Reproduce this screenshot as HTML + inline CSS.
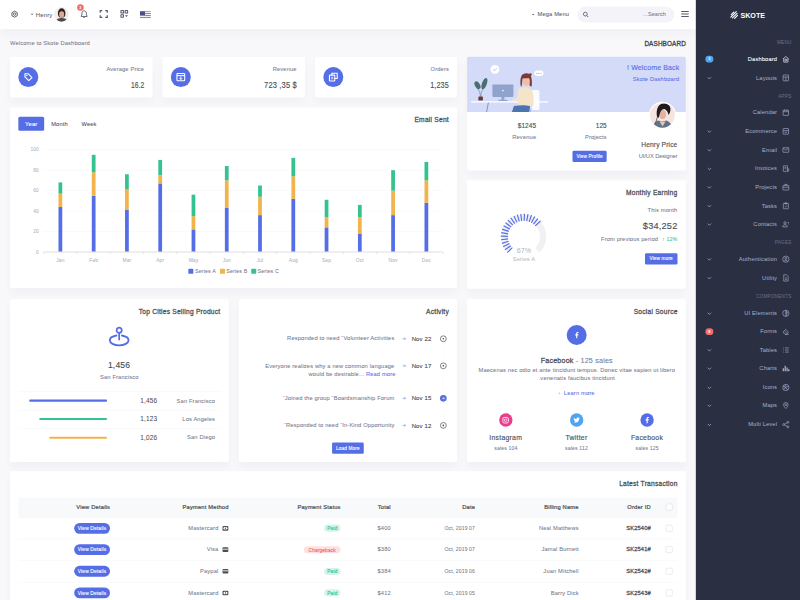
<!DOCTYPE html><html><head><meta charset="utf-8"><style>
*{box-sizing:border-box;margin:0;padding:0}
html,body{width:800px;height:600px;overflow:hidden;background:#f8f8fb}
body{font-family:"Liberation Sans",sans-serif;color:#495057}
#root{position:absolute;left:0;top:0;width:1920px;height:1440px;transform:scale(0.4166667);transform-origin:0 0;background:#f8f8fb;overflow:hidden}
.t{position:absolute;white-space:nowrap;font-size:13px;line-height:20px;height:20px}
.card{position:absolute;background:#fff;border-radius:4px;box-shadow:0 12px 24px rgba(18,38,63,.03)}
.muted{color:#74788d}
.b{font-weight:bold}
svg{position:absolute;overflow:visible}
#topbar{position:absolute;left:0;top:0;width:1670px;height:70px;background:#fff;box-shadow:0 12px 24px rgba(18,38,63,.03)}
#sidebar{position:absolute;left:1670px;top:0;width:250px;height:1440px;background:#2a3042}
.mi{position:absolute;color:#a6b0cf;font-size:13px;line-height:20px;height:20px;white-space:nowrap}
.mt{position:absolute;color:#6a7187;font-size:11px;line-height:14px;letter-spacing:.6px}
.btn{position:absolute;background:#556ee6;color:#fff;border-radius:4px;font-size:13px;text-align:center;white-space:nowrap;letter-spacing:.025em;-webkit-text-stroke:.25px #fff}
</style></head><body><div id="root">
<div id="topbar"></div>
<svg style="left:25px;top:24px" width="20" height="20" viewBox="0 0 24 24"><path d="M12 3.2l7.6 4.4v8.8L12 20.8l-7.6-4.4V7.6z" fill="none" stroke="#555b6d" stroke-width="2.8" stroke-linejoin="round"/><circle cx="12" cy="12" r="3.4" fill="none" stroke="#555b6d" stroke-width="2.6"/></svg>
<svg style="left:73px;top:32px" width="8" height="5" viewBox="0 0 8 5"><path d="M0.5 0.8h7L4 4z" fill="#555b6d"/></svg>
<div class="t" style="top:25.0px;font-size:14.31px;line-height:20px;letter-spacing:0.025em;-webkit-text-stroke:0.12px currentColor;left:86.0px;color:#555b6d;">Henry</div>
<div style="position:absolute;left:130px;top:17px;width:35px;height:35px;border-radius:50%;background:#f6ece8;overflow:hidden">
<div style="position:absolute;left:9px;top:3px;width:18px;height:22px;border-radius:50% 50% 40% 40%;background:#2b2320"></div>
<div style="position:absolute;left:12px;top:10px;width:12px;height:15px;border-radius:45%;background:#d9ab92"></div>
<div style="position:absolute;left:5px;top:26px;width:26px;height:14px;border-radius:50% 50% 0 0;background:#4a4a50"></div>
</div>
<svg style="left:191px;top:23px" width="22" height="22" viewBox="0 0 24 24"><path d="M12 3.2c-3.4 0-5.8 2.7-5.8 6v4.6L4.2 16.6v1.4h15.6v-1.4l-2-2.8V9.2c0-3.3-2.4-6-5.8-6z" fill="none" stroke="#555b6d" stroke-width="2.4" stroke-linejoin="round"/><path d="M9.6 19.8a2.4 2.4 0 0 0 4.8 0z" fill="#555b6d"/></svg>
<div style="position:absolute;left:185px;top:10px;width:16px;height:16px;border-radius:50%;background:#f46a6a;color:#fff;font-size:9px;line-height:16px;text-align:center;font-weight:bold">3</div>
<svg style="left:239px;top:24px" width="20" height="19" viewBox="0 0 20 19"><path d="M1.5 6.5V1.5H6.5M13.5 1.5h5v5M18.5 12.5v5h-5M6.5 17.5h-5v-5" fill="none" stroke="#555b6d" stroke-width="2.8"/></svg>
<svg style="left:289px;top:24px" width="19" height="19" viewBox="0 0 19 19"><rect x="1.3" y="1.3" width="6" height="6" rx="0.4" fill="none" stroke="#555b6d" stroke-width="2.5"/><rect x="11.3" y="1.3" width="6" height="6" rx="0.4" fill="none" stroke="#555b6d" stroke-width="2.5"/><rect x="1.3" y="11.3" width="6" height="6" rx="0.4" fill="none" stroke="#555b6d" stroke-width="2.5"/><path d="M11 12.5h7L14.5 17z" fill="#555b6d"/></svg>
<div style="position:absolute;left:336px;top:27px;width:26px;height:17px;overflow:hidden;background:repeating-linear-gradient(180deg,#e06a72 0 2.43px,#f8f0f0 2.43px 4.86px)"><div style="position:absolute;left:0;top:0;width:12px;height:9px;background:#4d4f8a"></div></div>
<svg style="left:1276px;top:33px" width="7" height="4" viewBox="0 0 7 4"><path d="M0.3 0.3h6.4L3.5 3.7z" fill="#555b6d"/></svg>
<div class="t" style="top:25.0px;font-size:13.78px;line-height:20px;letter-spacing:0.025em;-webkit-text-stroke:0.12px currentColor;left:1290.0px;color:#555b6d;">Mega Menu</div>
<div style="position:absolute;left:1386px;top:16px;width:232px;height:38px;border-radius:30px;background:#f3f3f9"></div>
<svg style="left:1398px;top:27px" width="16" height="16" viewBox="0 0 16 16"><circle cx="6.8" cy="6.8" r="4.6" fill="none" stroke="#555b6d" stroke-width="2"/><path d="M10.3 10.3l3.7 3.7" stroke="#555b6d" stroke-width="2.2"/></svg>
<div class="t" style="top:25.0px;font-size:13.04px;line-height:20px;letter-spacing:0.025em;-webkit-text-stroke:0.12px currentColor;right:321.7px;color:#74788d;">...Search</div>
<svg style="left:1634px;top:25px" width="20" height="17" viewBox="0 0 20 17"><path d="M1 2.5h18M1 8.5h18M1 14.5h18" stroke="#555b6d" stroke-width="2.6"/></svg>
<div class="t" style="top:93.0px;font-size:13.78px;line-height:20px;letter-spacing:0.025em;-webkit-text-stroke:0.12px currentColor;left:24.0px;color:#74788d;">Welcome to Skote Dashboard</div>
<div class="t" style="top:95.0px;font-size:16.48px;line-height:20px;letter-spacing:0.02em;-webkit-text-stroke:0.7px currentColor;right:273.7px;color:#3e444a;"><span style="display:inline-block;transform:scaleX(0.93);transform-origin:100% 50%">DASHBOARD</span></div>
<div id="sidebar"></div>
<svg style="left:1752px;top:26px" width="20" height="20" viewBox="0 0 20 20"><g fill="none" stroke="#fff" stroke-width="2.6" stroke-linecap="round"><path d="M3 9l6-6M2 15l13-13M6 17l11-11M11 18l7-7"/></g></svg>
<div class="t" style="top:25.5px;font-size:19.11px;line-height:20px;letter-spacing:0.0em;font-weight:bold;left:1777.0px;color:#fff;letter-spacing:0px;"><span style="display:inline-block;transform:scaleX(0.9);transform-origin:0 50%">SKOTE</span></div>
<div class="t" style="top:90.8px;font-size:11.02px;line-height:20px;letter-spacing:0.025em;right:20.3px;color:#6a7187;letter-spacing:0.6px;">MENU</div>
<div class="t" style="top:131.6px;font-size:13.78px;line-height:20px;letter-spacing:0.025em;-webkit-text-stroke:0.15px currentColor;right:54.9px;color:#fff;">Dashboard</div>
<svg style="left:1876.4px;top:131.6px" width="20" height="20" viewBox="0 0 20 20"><path d="M3 10L10 3.5 17 10M5 8.5V17h10V8.5" fill="none" stroke="#fff" stroke-width="1.5" stroke-linejoin="round"/><circle cx="10" cy="12" r="2.2" fill="none" stroke="#fff" stroke-width="1.5" stroke-linejoin="round"/></svg>
<div style="position:absolute;left:1693px;top:133.6px;width:19px;height:16px;border-radius:8px;background:#50a5f1;color:#fff;font-size:9px;line-height:16px;text-align:center;font-weight:bold">3</div>
<div class="t" style="top:177.2px;font-size:13.78px;line-height:20px;letter-spacing:0.025em;right:54.9px;color:#a6b0cf;">Layouts</div>
<svg style="left:1876.4px;top:177.2px" width="20" height="20" viewBox="0 0 20 20"><rect x="3.5" y="3" width="13" height="14" rx="1" fill="none" stroke="#a6b0cf" stroke-width="1.5" stroke-linejoin="round"/><path d="M3.5 8h13M10 8v9" fill="none" stroke="#a6b0cf" stroke-width="1.5" stroke-linejoin="round"/></svg>
<svg style="left:1697px;top:184.2px" width="11" height="7" viewBox="0 0 11 7"><path d="M1.5 1.5l4 4 4-4" fill="none" stroke="#a6b0cf" stroke-width="1.8"/></svg>
<div class="t" style="top:220.4px;font-size:11.02px;line-height:20px;letter-spacing:0.025em;right:20.3px;color:#6a7187;letter-spacing:0.6px;">APPS</div>
<div class="t" style="top:260.4px;font-size:13.78px;line-height:20px;letter-spacing:0.025em;right:54.9px;color:#a6b0cf;">Calendar</div>
<svg style="left:1876.4px;top:260.4px" width="20" height="20" viewBox="0 0 20 20"><rect x="3.5" y="4.5" width="13" height="12.5" rx="1" fill="none" stroke="#a6b0cf" stroke-width="1.5" stroke-linejoin="round"/><path d="M3.5 8h13M7 2.5v3M13 2.5v3" fill="none" stroke="#a6b0cf" stroke-width="1.5" stroke-linejoin="round"/></svg>
<div class="t" style="top:305.0px;font-size:13.78px;line-height:20px;letter-spacing:0.025em;right:54.9px;color:#a6b0cf;">Ecommerce</div>
<svg style="left:1876.4px;top:305.0px" width="20" height="20" viewBox="0 0 20 20"><rect x="3.5" y="3.5" width="13" height="13.5" rx="1" fill="none" stroke="#a6b0cf" stroke-width="1.5" stroke-linejoin="round"/><path d="M3.5 8.5h13M7 12.5h6" fill="none" stroke="#a6b0cf" stroke-width="1.5" stroke-linejoin="round"/></svg>
<svg style="left:1697px;top:312.0px" width="11" height="7" viewBox="0 0 11 7"><path d="M1.5 1.5l4 4 4-4" fill="none" stroke="#a6b0cf" stroke-width="1.8"/></svg>
<div class="t" style="top:350.0px;font-size:13.78px;line-height:20px;letter-spacing:0.025em;right:54.9px;color:#a6b0cf;">Email</div>
<svg style="left:1876.4px;top:350.0px" width="20" height="20" viewBox="0 0 20 20"><rect x="3" y="4.5" width="14" height="11" rx="1" fill="none" stroke="#a6b0cf" stroke-width="1.5" stroke-linejoin="round"/><path d="M3.5 5.5l6.5 5 6.5-5" fill="none" stroke="#a6b0cf" stroke-width="1.5" stroke-linejoin="round"/></svg>
<svg style="left:1697px;top:357.0px" width="11" height="7" viewBox="0 0 11 7"><path d="M1.5 1.5l4 4 4-4" fill="none" stroke="#a6b0cf" stroke-width="1.8"/></svg>
<div class="t" style="top:395.0px;font-size:13.78px;line-height:20px;letter-spacing:0.025em;right:54.9px;color:#a6b0cf;">Invoices</div>
<svg style="left:1876.4px;top:395.0px" width="20" height="20" viewBox="0 0 20 20"><path d="M4 3h10v14l-2-1.2-2 1.2-2-1.2-2 1.2-2-1.2z" fill="none" stroke="#a6b0cf" stroke-width="1.5" stroke-linejoin="round"/><path d="M7 7h4M7 10h4M14 10h3v5a2 2 0 0 1-3 0" fill="none" stroke="#a6b0cf" stroke-width="1.5" stroke-linejoin="round"/></svg>
<svg style="left:1697px;top:402.0px" width="11" height="7" viewBox="0 0 11 7"><path d="M1.5 1.5l4 4 4-4" fill="none" stroke="#a6b0cf" stroke-width="1.8"/></svg>
<div class="t" style="top:438.8px;font-size:13.78px;line-height:20px;letter-spacing:0.025em;right:54.9px;color:#a6b0cf;">Projects</div>
<svg style="left:1876.4px;top:438.8px" width="20" height="20" viewBox="0 0 20 20"><rect x="3" y="6" width="14" height="11" rx="1" fill="none" stroke="#a6b0cf" stroke-width="1.5" stroke-linejoin="round"/><path d="M7.5 6V3.5h5V6M3 10.5h14" fill="none" stroke="#a6b0cf" stroke-width="1.5" stroke-linejoin="round"/></svg>
<svg style="left:1697px;top:445.8px" width="11" height="7" viewBox="0 0 11 7"><path d="M1.5 1.5l4 4 4-4" fill="none" stroke="#a6b0cf" stroke-width="1.8"/></svg>
<div class="t" style="top:483.7px;font-size:13.78px;line-height:20px;letter-spacing:0.025em;right:54.9px;color:#a6b0cf;">Tasks</div>
<svg style="left:1876.4px;top:483.7px" width="20" height="20" viewBox="0 0 20 20"><rect x="4" y="4" width="12" height="13" rx="1" fill="none" stroke="#a6b0cf" stroke-width="1.5" stroke-linejoin="round"/><path d="M7.5 3h5v2.5h-5zM7.5 11l2 2 3-3.5" fill="none" stroke="#a6b0cf" stroke-width="1.5" stroke-linejoin="round"/></svg>
<svg style="left:1697px;top:490.7px" width="11" height="7" viewBox="0 0 11 7"><path d="M1.5 1.5l4 4 4-4" fill="none" stroke="#a6b0cf" stroke-width="1.8"/></svg>
<div class="t" style="top:527.6px;font-size:13.78px;line-height:20px;letter-spacing:0.025em;right:54.9px;color:#a6b0cf;">Contacts</div>
<svg style="left:1876.4px;top:527.6px" width="20" height="20" viewBox="0 0 20 20"><circle cx="8" cy="7" r="2.8" fill="none" stroke="#a6b0cf" stroke-width="1.5" stroke-linejoin="round"/><path d="M2.5 16.5c0-3.5 2.5-5 5.5-5s5.5 1.5 5.5 5z" fill="none" stroke="#a6b0cf" stroke-width="1.5" stroke-linejoin="round"/><path d="M14.5 6h3M15 9.5h2.5" fill="none" stroke="#a6b0cf" stroke-width="1.5" stroke-linejoin="round"/></svg>
<svg style="left:1697px;top:534.6px" width="11" height="7" viewBox="0 0 11 7"><path d="M1.5 1.5l4 4 4-4" fill="none" stroke="#a6b0cf" stroke-width="1.8"/></svg>
<div class="t" style="top:571.5px;font-size:11.02px;line-height:20px;letter-spacing:0.025em;right:20.3px;color:#6a7187;letter-spacing:0.6px;">PAGES</div>
<div class="t" style="top:612.3px;font-size:13.78px;line-height:20px;letter-spacing:0.025em;right:54.9px;color:#a6b0cf;">Authentication</div>
<svg style="left:1876.4px;top:612.3px" width="20" height="20" viewBox="0 0 20 20"><circle cx="10" cy="10" r="7.5" fill="none" stroke="#a6b0cf" stroke-width="1.5" stroke-linejoin="round"/><circle cx="10" cy="8.2" r="2.4" fill="none" stroke="#a6b0cf" stroke-width="1.5" stroke-linejoin="round"/><path d="M5.5 15.5c1-2 2.5-3 4.5-3s3.5 1 4.5 3" fill="none" stroke="#a6b0cf" stroke-width="1.5" stroke-linejoin="round"/></svg>
<svg style="left:1697px;top:619.3px" width="11" height="7" viewBox="0 0 11 7"><path d="M1.5 1.5l4 4 4-4" fill="none" stroke="#a6b0cf" stroke-width="1.8"/></svg>
<div class="t" style="top:656.5px;font-size:13.78px;line-height:20px;letter-spacing:0.025em;right:54.9px;color:#a6b0cf;">Utility</div>
<svg style="left:1876.4px;top:656.5px" width="20" height="20" viewBox="0 0 20 20"><path d="M5 2.5h7l3.5 3.5v11.5H5z" fill="none" stroke="#a6b0cf" stroke-width="1.5" stroke-linejoin="round"/><path d="M8 10h4.5M8 13.5h4.5" fill="none" stroke="#a6b0cf" stroke-width="1.5" stroke-linejoin="round"/></svg>
<svg style="left:1697px;top:663.5px" width="11" height="7" viewBox="0 0 11 7"><path d="M1.5 1.5l4 4 4-4" fill="none" stroke="#a6b0cf" stroke-width="1.8"/></svg>
<div class="t" style="top:700.6px;font-size:11.02px;line-height:20px;letter-spacing:0.025em;right:20.3px;color:#6a7187;letter-spacing:0.6px;">COMPONENTS</div>
<div class="t" style="top:742.0px;font-size:13.78px;line-height:20px;letter-spacing:0.025em;right:54.9px;color:#a6b0cf;">UI Elements</div>
<svg style="left:1876.4px;top:742.0px" width="20" height="20" viewBox="0 0 20 20"><circle cx="10" cy="10" r="7.5" fill="none" stroke="#a6b0cf" stroke-width="1.5" stroke-linejoin="round"/><path d="M10 2.5v15" fill="none" stroke="#a6b0cf" stroke-width="1.5" stroke-linejoin="round"/><path d="M10 5h3M10 8h4.5M10 11h4.5M10 14h3" fill="none" stroke="#a6b0cf" stroke-width="1.5" stroke-linejoin="round"/></svg>
<svg style="left:1697px;top:749.0px" width="11" height="7" viewBox="0 0 11 7"><path d="M1.5 1.5l4 4 4-4" fill="none" stroke="#a6b0cf" stroke-width="1.8"/></svg>
<div class="t" style="top:786.0px;font-size:13.78px;line-height:20px;letter-spacing:0.025em;right:54.9px;color:#a6b0cf;">Forms</div>
<svg style="left:1876.4px;top:786.0px" width="20" height="20" viewBox="0 0 20 20"><path d="M3 11.5l6.5-7 7 6.5-5 5.5H8.5z" fill="none" stroke="#a6b0cf" stroke-width="1.5" stroke-linejoin="round"/><path d="M7 9l6 5.5M8.5 16.5H17" fill="none" stroke="#a6b0cf" stroke-width="1.5" stroke-linejoin="round"/></svg>
<div style="position:absolute;left:1693px;top:788.0px;width:19px;height:16px;border-radius:8px;background:#f46a6a;color:#fff;font-size:9px;line-height:16px;text-align:center;font-weight:bold">8</div>
<div class="t" style="top:830.0px;font-size:13.78px;line-height:20px;letter-spacing:0.025em;right:54.9px;color:#a6b0cf;">Tables</div>
<svg style="left:1876.4px;top:830.0px" width="20" height="20" viewBox="0 0 20 20"><path d="M3 5h2M8 5h9M3 10h2M8 10h9M3 15h2M8 15h9" fill="none" stroke="#a6b0cf" stroke-width="1.5" stroke-linejoin="round"/></svg>
<svg style="left:1697px;top:837.0px" width="11" height="7" viewBox="0 0 11 7"><path d="M1.5 1.5l4 4 4-4" fill="none" stroke="#a6b0cf" stroke-width="1.8"/></svg>
<div class="t" style="top:874.0px;font-size:13.78px;line-height:20px;letter-spacing:0.025em;right:54.9px;color:#a6b0cf;">Charts</div>
<svg style="left:1876.4px;top:874.0px" width="20" height="20" viewBox="0 0 20 20"><path d="M4 17V10M8.5 17V4M13 17V8M17 17V12" fill="none" stroke="#a6b0cf" stroke-width="3"/></svg>
<svg style="left:1697px;top:881.0px" width="11" height="7" viewBox="0 0 11 7"><path d="M1.5 1.5l4 4 4-4" fill="none" stroke="#a6b0cf" stroke-width="1.8"/></svg>
<div class="t" style="top:919.5px;font-size:13.78px;line-height:20px;letter-spacing:0.025em;right:54.9px;color:#a6b0cf;">Icons</div>
<svg style="left:1876.4px;top:919.5px" width="20" height="20" viewBox="0 0 20 20"><circle cx="10" cy="10" r="7.5" fill="none" stroke="#a6b0cf" stroke-width="1.5" stroke-linejoin="round"/><path d="M10 2.5L7 9M17 8l-7 .5M14 16l-4-6M4 15.5L10 10M3 7.5l7 2.5" fill="none" stroke="#a6b0cf" stroke-width="1.5" stroke-linejoin="round"/></svg>
<svg style="left:1697px;top:926.5px" width="11" height="7" viewBox="0 0 11 7"><path d="M1.5 1.5l4 4 4-4" fill="none" stroke="#a6b0cf" stroke-width="1.8"/></svg>
<div class="t" style="top:963.4px;font-size:13.78px;line-height:20px;letter-spacing:0.025em;right:54.9px;color:#a6b0cf;">Maps</div>
<svg style="left:1876.4px;top:963.4px" width="20" height="20" viewBox="0 0 20 20"><path d="M10 17.5s-5.5-5.5-5.5-9a5.5 5.5 0 0 1 11 0c0 3.5-5.5 9-5.5 9z" fill="none" stroke="#a6b0cf" stroke-width="1.5" stroke-linejoin="round"/><circle cx="10" cy="8.5" r="2" fill="none" stroke="#a6b0cf" stroke-width="1.5" stroke-linejoin="round"/></svg>
<svg style="left:1697px;top:970.4px" width="11" height="7" viewBox="0 0 11 7"><path d="M1.5 1.5l4 4 4-4" fill="none" stroke="#a6b0cf" stroke-width="1.8"/></svg>
<div class="t" style="top:1008.8px;font-size:13.78px;line-height:20px;letter-spacing:0.025em;right:54.9px;color:#a6b0cf;">Multi Level</div>
<svg style="left:1876.4px;top:1008.8px" width="20" height="20" viewBox="0 0 20 20"><circle cx="5" cy="10" r="2.3" fill="none" stroke="#a6b0cf" stroke-width="1.5" stroke-linejoin="round"/><circle cx="15" cy="4.5" r="2.3" fill="none" stroke="#a6b0cf" stroke-width="1.5" stroke-linejoin="round"/><circle cx="15" cy="15.5" r="2.3" fill="none" stroke="#a6b0cf" stroke-width="1.5" stroke-linejoin="round"/><path d="M7 9l6-3.5M7 11l6 3.5" fill="none" stroke="#a6b0cf" stroke-width="1.5" stroke-linejoin="round"/></svg>
<svg style="left:1697px;top:1015.8px" width="11" height="7" viewBox="0 0 11 7"><path d="M1.5 1.5l4 4 4-4" fill="none" stroke="#a6b0cf" stroke-width="1.8"/></svg>
<div class="card" style="left:24.0px;top:136.8px;width:341.8px;height:97.2px;"></div>
<div class="t" style="top:156.6px;font-size:13.78px;line-height:20px;letter-spacing:0.025em;-webkit-text-stroke:0.12px currentColor;right:1573.9px;color:#74788d;">Average Price</div>
<div class="t" style="top:193.5px;font-size:20.09px;line-height:20px;letter-spacing:0.02em;-webkit-text-stroke:0.3px currentColor;right:1573.8px;color:#495057;"><span style="display:inline-block;transform:scaleX(0.8);transform-origin:100% 50%">16.2</span></div>
<div style="position:absolute;left:44px;top:161.4px;width:48px;height:48px;border-radius:50%;background:#556ee6"></div>
<svg style="left:54px;top:171.4px" width="28" height="28" viewBox="0 0 24 24"><path d="M5 11.5V5h6.5l8 8-6.5 6.5z" fill="none" stroke="#fff" stroke-width="2.2" stroke-linejoin="round"/><circle cx="8.8" cy="8.8" r="1.4" fill="#fff"/></svg>
<div class="card" style="left:389.8px;top:136.8px;width:341.8px;height:97.2px;"></div>
<div class="t" style="top:156.6px;font-size:13.78px;line-height:20px;letter-spacing:0.025em;-webkit-text-stroke:0.12px currentColor;right:1208.1px;color:#74788d;">Revenue</div>
<div class="t" style="top:193.5px;font-size:20.09px;line-height:20px;letter-spacing:0.02em;-webkit-text-stroke:0.3px currentColor;right:1208.0px;color:#495057;"><span style="display:inline-block;transform:scaleX(0.9);transform-origin:100% 50%">723 ,35 $</span></div>
<div style="position:absolute;left:409.8px;top:161.4px;width:48px;height:48px;border-radius:50%;background:#556ee6"></div>
<svg style="left:419.8px;top:171.4px" width="28" height="28" viewBox="0 0 24 24"><rect x="4" y="4.5" width="16" height="15" rx="1.5" fill="none" stroke="#fff" stroke-width="2.2"/><path d="M4 9h16" stroke="#fff" stroke-width="2.2"/><path d="M12 11v6M9.3 14.3L12 17l2.7-2.7" fill="none" stroke="#fff" stroke-width="2"/></svg>
<div class="card" style="left:755.6px;top:136.8px;width:341.7px;height:97.2px;"></div>
<div class="t" style="top:156.6px;font-size:13.78px;line-height:20px;letter-spacing:0.025em;-webkit-text-stroke:0.12px currentColor;right:842.4px;color:#74788d;">Orders</div>
<div class="t" style="top:193.5px;font-size:20.09px;line-height:20px;letter-spacing:0.02em;-webkit-text-stroke:0.3px currentColor;right:842.3px;color:#495057;"><span style="display:inline-block;transform:scaleX(0.86);transform-origin:100% 50%">1,235</span></div>
<div style="position:absolute;left:775.6px;top:161.4px;width:48px;height:48px;border-radius:50%;background:#556ee6"></div>
<svg style="left:785.6px;top:171.4px" width="28" height="28" viewBox="0 0 24 24"><rect x="4" y="8" width="11" height="12" rx="1.2" fill="none" stroke="#fff" stroke-width="2.2"/><path d="M9 8V4h11v11h-5" fill="none" stroke="#fff" stroke-width="2.2"/><path d="M7 12.5h5M7 15.5h5" stroke="#fff" stroke-width="1.6"/></svg>
<div class="card" style="left:24.0px;top:258.0px;width:1073.3px;height:432.5px;"></div>
<div class="btn" style="left:44px;top:280px;width:62px;height:34px;line-height:36px;font-size:14px">Year</div>
<div class="t" style="top:288.2px;font-size:13.78px;line-height:20px;letter-spacing:0.025em;-webkit-text-stroke:0.12px currentColor;left:-357.2px;width:1000px;text-align:center;color:#495057;">Month</div>
<div class="t" style="top:288.2px;font-size:13.78px;line-height:20px;letter-spacing:0.025em;-webkit-text-stroke:0.12px currentColor;left:-286.4px;width:1000px;text-align:center;color:#495057;">Week</div>
<div class="t" style="top:278.0px;font-size:15.96px;line-height:20px;letter-spacing:0.02em;-webkit-text-stroke:0.6px currentColor;right:842.7px;color:#495057;letter-spacing:0.55px;">Email Sent</div>
<svg style="left:0;top:0" width="1920" height="1440"><line x1="105.0" x2="1063.2" y1="555.5" y2="555.5" stroke="#f5f5f7" stroke-width="1.2"/><line x1="105.0" x2="1063.2" y1="506.5" y2="506.5" stroke="#f5f5f7" stroke-width="1.2"/><line x1="105.0" x2="1063.2" y1="457.4" y2="457.4" stroke="#f5f5f7" stroke-width="1.2"/><line x1="105.0" x2="1063.2" y1="408.4" y2="408.4" stroke="#f5f5f7" stroke-width="1.2"/><line x1="105.0" x2="1063.2" y1="359.3" y2="359.3" stroke="#f5f5f7" stroke-width="1.2"/><rect x="140.4" y="496.7" width="9" height="107.9" fill="#556ee6"/><rect x="140.4" y="464.8" width="9" height="31.9" fill="#f1b44c"/><rect x="140.4" y="437.8" width="9" height="27.0" fill="#34c38f"/><rect x="220.3" y="469.7" width="9" height="134.9" fill="#556ee6"/><rect x="220.3" y="413.3" width="9" height="56.4" fill="#f1b44c"/><rect x="220.3" y="371.6" width="9" height="41.7" fill="#34c38f"/><rect x="300.1" y="504.0" width="9" height="100.6" fill="#556ee6"/><rect x="300.1" y="455.0" width="9" height="49.1" fill="#f1b44c"/><rect x="300.1" y="418.2" width="9" height="36.8" fill="#34c38f"/><rect x="380.0" y="440.2" width="9" height="164.4" fill="#556ee6"/><rect x="380.0" y="420.6" width="9" height="19.6" fill="#f1b44c"/><rect x="380.0" y="383.8" width="9" height="36.8" fill="#34c38f"/><rect x="459.8" y="550.6" width="9" height="54.0" fill="#556ee6"/><rect x="459.8" y="518.7" width="9" height="31.9" fill="#f1b44c"/><rect x="459.8" y="467.2" width="9" height="51.5" fill="#34c38f"/><rect x="539.7" y="499.1" width="9" height="105.5" fill="#556ee6"/><rect x="539.7" y="432.9" width="9" height="66.2" fill="#f1b44c"/><rect x="539.7" y="398.5" width="9" height="34.3" fill="#34c38f"/><rect x="619.5" y="516.3" width="9" height="88.3" fill="#556ee6"/><rect x="619.5" y="472.1" width="9" height="44.2" fill="#f1b44c"/><rect x="619.5" y="445.2" width="9" height="27.0" fill="#34c38f"/><rect x="699.4" y="477.0" width="9" height="127.6" fill="#556ee6"/><rect x="699.4" y="423.1" width="9" height="54.0" fill="#f1b44c"/><rect x="699.4" y="378.9" width="9" height="44.2" fill="#34c38f"/><rect x="779.2" y="545.7" width="9" height="58.9" fill="#556ee6"/><rect x="779.2" y="521.2" width="9" height="24.5" fill="#f1b44c"/><rect x="779.2" y="479.5" width="9" height="41.7" fill="#34c38f"/><rect x="859.1" y="560.4" width="9" height="44.2" fill="#556ee6"/><rect x="859.1" y="521.2" width="9" height="39.2" fill="#f1b44c"/><rect x="859.1" y="491.8" width="9" height="29.4" fill="#34c38f"/><rect x="938.9" y="516.3" width="9" height="88.3" fill="#556ee6"/><rect x="938.9" y="457.4" width="9" height="58.9" fill="#f1b44c"/><rect x="938.9" y="408.4" width="9" height="49.1" fill="#34c38f"/><rect x="1018.8" y="486.9" width="9" height="117.7" fill="#556ee6"/><rect x="1018.8" y="432.9" width="9" height="54.0" fill="#f1b44c"/><rect x="1018.8" y="388.7" width="9" height="44.2" fill="#34c38f"/><line x1="105.0" x2="105.0" y1="604.6" y2="609.6" stroke="#e0e0e0" stroke-width="2"/><line x1="184.9" x2="184.9" y1="604.6" y2="609.6" stroke="#e0e0e0" stroke-width="2"/><line x1="264.7" x2="264.7" y1="604.6" y2="609.6" stroke="#e0e0e0" stroke-width="2"/><line x1="344.6" x2="344.6" y1="604.6" y2="609.6" stroke="#e0e0e0" stroke-width="2"/><line x1="424.4" x2="424.4" y1="604.6" y2="609.6" stroke="#e0e0e0" stroke-width="2"/><line x1="504.3" x2="504.3" y1="604.6" y2="609.6" stroke="#e0e0e0" stroke-width="2"/><line x1="584.1" x2="584.1" y1="604.6" y2="609.6" stroke="#e0e0e0" stroke-width="2"/><line x1="664.0" x2="664.0" y1="604.6" y2="609.6" stroke="#e0e0e0" stroke-width="2"/><line x1="743.8" x2="743.8" y1="604.6" y2="609.6" stroke="#e0e0e0" stroke-width="2"/><line x1="823.7" x2="823.7" y1="604.6" y2="609.6" stroke="#e0e0e0" stroke-width="2"/><line x1="903.5" x2="903.5" y1="604.6" y2="609.6" stroke="#e0e0e0" stroke-width="2"/><line x1="983.4" x2="983.4" y1="604.6" y2="609.6" stroke="#e0e0e0" stroke-width="2"/><line x1="1063.2" x2="1063.2" y1="604.6" y2="609.6" stroke="#e0e0e0" stroke-width="2"/><line x1="105.0" x2="1063.2" y1="604.6" y2="604.6" stroke="#e0e0e0" stroke-width="2.5"/></svg>
<div class="t" style="top:594.6px;font-size:11.66px;line-height:20px;letter-spacing:0.025em;-webkit-text-stroke:0.12px currentColor;right:1826.7px;color:#adb5bd;">0</div>
<div class="t" style="top:545.5px;font-size:11.66px;line-height:20px;letter-spacing:0.025em;-webkit-text-stroke:0.12px currentColor;right:1826.7px;color:#adb5bd;">20</div>
<div class="t" style="top:496.5px;font-size:11.66px;line-height:20px;letter-spacing:0.025em;-webkit-text-stroke:0.12px currentColor;right:1826.7px;color:#adb5bd;">40</div>
<div class="t" style="top:447.4px;font-size:11.66px;line-height:20px;letter-spacing:0.025em;-webkit-text-stroke:0.12px currentColor;right:1826.7px;color:#adb5bd;">60</div>
<div class="t" style="top:398.4px;font-size:11.66px;line-height:20px;letter-spacing:0.025em;-webkit-text-stroke:0.12px currentColor;right:1826.7px;color:#adb5bd;">80</div>
<div class="t" style="top:349.3px;font-size:11.66px;line-height:20px;letter-spacing:0.025em;-webkit-text-stroke:0.12px currentColor;right:1826.7px;color:#adb5bd;">100</div>
<div class="t" style="top:614.0px;font-size:11.66px;line-height:20px;letter-spacing:0.025em;-webkit-text-stroke:0.12px currentColor;left:-355.1px;width:1000px;text-align:center;color:#adb5bd;">Jan</div>
<div class="t" style="top:614.0px;font-size:11.66px;line-height:20px;letter-spacing:0.025em;-webkit-text-stroke:0.12px currentColor;left:-275.2px;width:1000px;text-align:center;color:#adb5bd;">Feb</div>
<div class="t" style="top:614.0px;font-size:11.66px;line-height:20px;letter-spacing:0.025em;-webkit-text-stroke:0.12px currentColor;left:-195.4px;width:1000px;text-align:center;color:#adb5bd;">Mar</div>
<div class="t" style="top:614.0px;font-size:11.66px;line-height:20px;letter-spacing:0.025em;-webkit-text-stroke:0.12px currentColor;left:-115.5px;width:1000px;text-align:center;color:#adb5bd;">Apr</div>
<div class="t" style="top:614.0px;font-size:11.66px;line-height:20px;letter-spacing:0.025em;-webkit-text-stroke:0.12px currentColor;left:-35.7px;width:1000px;text-align:center;color:#adb5bd;">May</div>
<div class="t" style="top:614.0px;font-size:11.66px;line-height:20px;letter-spacing:0.025em;-webkit-text-stroke:0.12px currentColor;left:44.2px;width:1000px;text-align:center;color:#adb5bd;">Jun</div>
<div class="t" style="top:614.0px;font-size:11.66px;line-height:20px;letter-spacing:0.025em;-webkit-text-stroke:0.12px currentColor;left:124.0px;width:1000px;text-align:center;color:#adb5bd;">Jul</div>
<div class="t" style="top:614.0px;font-size:11.66px;line-height:20px;letter-spacing:0.025em;-webkit-text-stroke:0.12px currentColor;left:203.9px;width:1000px;text-align:center;color:#adb5bd;">Aug</div>
<div class="t" style="top:614.0px;font-size:11.66px;line-height:20px;letter-spacing:0.025em;-webkit-text-stroke:0.12px currentColor;left:283.7px;width:1000px;text-align:center;color:#adb5bd;">Sep</div>
<div class="t" style="top:614.0px;font-size:11.66px;line-height:20px;letter-spacing:0.025em;-webkit-text-stroke:0.12px currentColor;left:363.6px;width:1000px;text-align:center;color:#adb5bd;">Oct</div>
<div class="t" style="top:614.0px;font-size:11.66px;line-height:20px;letter-spacing:0.025em;-webkit-text-stroke:0.12px currentColor;left:443.4px;width:1000px;text-align:center;color:#adb5bd;">Nov</div>
<div class="t" style="top:614.0px;font-size:11.66px;line-height:20px;letter-spacing:0.025em;-webkit-text-stroke:0.12px currentColor;left:523.3px;width:1000px;text-align:center;color:#adb5bd;">Dec</div>
<div style="position:absolute;left:451.8px;top:644.5px;width:12px;height:12px;background:#556ee6;border-radius:2px"></div>
<div class="t" style="top:641.0px;font-size:12.72px;line-height:20px;letter-spacing:0.025em;-webkit-text-stroke:0.12px currentColor;left:468.0px;color:#74788d;">Series A</div>
<div style="position:absolute;left:527.8px;top:644.5px;width:12px;height:12px;background:#f1b44c;border-radius:2px"></div>
<div class="t" style="top:641.0px;font-size:12.72px;line-height:20px;letter-spacing:0.025em;-webkit-text-stroke:0.12px currentColor;left:543.0px;color:#74788d;">Series B</div>
<div style="position:absolute;left:603px;top:644.5px;width:12px;height:12px;background:#34c38f;border-radius:2px"></div>
<div class="t" style="top:641.0px;font-size:12.72px;line-height:20px;letter-spacing:0.025em;-webkit-text-stroke:0.12px currentColor;left:618.0px;color:#74788d;">Series C</div>
<div class="card" style="left:1121.3px;top:136.0px;width:524.7px;height:273.0px;"></div>
<div style="position:absolute;left:1121.3px;top:136px;width:524.7px;height:132.6px;background:#d4dbf9;border-radius:4px 4px 0 0"></div>
<div class="t" style="top:151.8px;font-size:16.74px;line-height:20px;letter-spacing:0.02em;-webkit-text-stroke:0.3px currentColor;right:289.7px;color:#556ee6;">! Welcome Back</div>
<div class="t" style="top:179.6px;font-size:13.78px;line-height:20px;letter-spacing:0.025em;-webkit-text-stroke:0.12px currentColor;right:289.7px;color:#556ee6;">Skote Dashboard</div>
<svg style="left:1121.3px;top:136px" width="524.7" height="132.6" viewBox="467.2 56.67 218.6 55.25">
<circle cx="495" cy="69.4" r="4.4" fill="#fff"/><path d="M493.2 69.6l1.3 1.2 2.4-2.6" fill="none" stroke="#8a9ad6" stroke-width="0.6"/>
<path d="M480.6 96.5c-.3-3-1-5.5-2.2-7.5M481 96.5c0-3 .8-5.5 2.2-7.5" fill="none" stroke="#4a6f73" stroke-width="0.5"/><ellipse cx="477.6" cy="85.2" rx="2.5" ry="4.2" transform="rotate(-30 477.6 85.2)" fill="#4a6f73"/><ellipse cx="484.5" cy="83.6" rx="2.4" ry="6" transform="rotate(20 484.5 83.6)" fill="#4a6f73"/>
<rect x="478.5" y="96.5" width="4.5" height="4" rx="0.6" fill="#6b3838"/>
<rect x="471" y="101.2" width="77.5" height="1.4" rx="0.7" fill="#fff"/>
<path d="M488.5 102.6l-1.8 9.4" stroke="#5a6270" stroke-width="0.6"/><path d="M529 102.6l1.2 9.4" stroke="#5a6270" stroke-width="0.6"/>
<rect x="492.5" y="84.4" width="21" height="12.5" rx="0.8" fill="#8fa3cc"/>
<rect x="501.5" y="96.9" width="3" height="3" fill="#8fa3cc"/><rect x="498.5" y="99.8" width="9" height="1.2" fill="#8fa3cc"/>
<circle cx="503" cy="90.6" r="0.8" fill="#fff"/>
<rect x="532" y="90" width="7.5" height="20" rx="1.5" fill="#fff" opacity="0.9"/>
<path d="M518.5 89.5c3-2.5 10-2.5 13 0 2 3 2.5 9 2 16.5h-15c-1.5-6-1.5-12 0-16.5z" fill="#f4e5ca"/>
<path d="M519.5 95c-2 2-4 4-7.5 5.2l.5 1.3c3.5-.6 6.5-1.6 8.5-3z" fill="#f4e5ca"/>
<path d="M514 106c5-1 12-1 16 0l-1 5.9h-17z" fill="#4b74b0"/>
<path d="M521.5 76c1-2.5 5.5-3.5 8-2 2.5 2 2.8 7.5 2.3 12.5l-2-.5-.5-6-6.5-2-1 8.5-1-.5c-.5-3.5-.5-7 .7-10z" fill="#7a3a3a"/><circle cx="530.5" cy="74.6" r="1.3" fill="#7a3a3a"/>
<ellipse cx="526.3" cy="81.3" rx="3.6" ry="4.4" fill="#f0bea4"/><path d="M522.5 78.5c1-2.5 6-3 7.5-.5" fill="#7a3a3a"/>
<rect x="534.5" y="70.5" width="9" height="5.5" rx="2.7" fill="#fff"/>
<circle cx="537" cy="73.2" r="0.5" fill="#8a8fa0"/><circle cx="539" cy="73.2" r="0.5" fill="#8a8fa0"/><circle cx="541" cy="73.2" r="0.5" fill="#8a8fa0"/>
</svg>
<svg style="left:1556.7px;top:243.9px" width="65.5" height="65.5" viewBox="648.7 101.7 27.3 27.3">
<defs><clipPath id="avc"><circle cx="662.35" cy="115.35" r="12.4"/></clipPath></defs>
<circle cx="662.35" cy="115.35" r="13.65" fill="#fff"/>
<circle cx="662.35" cy="115.35" r="12.4" fill="#f6e4df"/>
<g clip-path="url(#avc)">
<path d="M652 129c1-5 4-8 6-8.5l4 1 4.5-1c2.5 1 5.5 3.5 6.5 8.5z" fill="#5f7287"/>
<path d="M659.5 121.5l3 5 3-5z" fill="#e8c4b4"/>
<ellipse cx="662.5" cy="114.5" rx="3.6" ry="4.6" fill="#e1b3a0"/>
<path d="M657 117c-1-5 0-11 4-13 4-1.5 8 0 9 3 1 3 0 6-1.5 8-.5-3-2-5-4-6-2.5 0-4 2-4.5 4l-1.5 5z" fill="#1e1a1d"/>
<path d="M657.5 116c-.5 3-1.5 6-2.5 8" stroke="#5a4a48" stroke-width="0.6"/>
</g></svg>
<div class="t" style="top:337.5px;font-size:15.96px;line-height:20px;letter-spacing:0.02em;-webkit-text-stroke:0.3px currentColor;right:294.2px;color:#495057;">Henry Price</div>
<div class="t" style="top:364.4px;font-size:13.78px;line-height:20px;letter-spacing:0.025em;-webkit-text-stroke:0.12px currentColor;right:294.2px;color:#74788d;letter-spacing:-0.2px;">UI/UX Designer</div>
<div class="t" style="top:291.0px;font-size:15.45px;line-height:20px;letter-spacing:0.02em;-webkit-text-stroke:0.3px currentColor;right:463.7px;color:#495057;">125</div>
<div class="t" style="top:318.6px;font-size:13.78px;line-height:20px;letter-spacing:0.025em;-webkit-text-stroke:0.12px currentColor;right:463.7px;color:#74788d;">Projects</div>
<div class="t" style="top:291.0px;font-size:15.45px;line-height:20px;letter-spacing:0.02em;-webkit-text-stroke:0.3px currentColor;right:633.1px;color:#495057;">$1245</div>
<div class="t" style="top:318.6px;font-size:13.78px;line-height:20px;letter-spacing:0.025em;-webkit-text-stroke:0.12px currentColor;right:633.1px;color:#74788d;">Revenue</div>
<div class="btn" style="left:1374px;top:362px;width:82px;height:26.5px;line-height:26.5px;font-size:11.4px;border-radius:3.2px">View Profile</div>
<div class="card" style="left:1121.3px;top:433.0px;width:524.7px;height:259.6px;"></div>
<div class="t" style="top:452.6px;font-size:15.96px;line-height:20px;letter-spacing:0.02em;-webkit-text-stroke:0.6px currentColor;right:294.2px;color:#495057;letter-spacing:0.55px;">Monthly Earning</div>
<div class="t" style="top:494.0px;font-size:13.78px;line-height:20px;letter-spacing:0.025em;-webkit-text-stroke:0.12px currentColor;right:294.2px;color:#74788d;">This month</div>
<div class="t" style="top:532.4px;font-size:22.14px;line-height:20px;letter-spacing:0.02em;-webkit-text-stroke:0.3px currentColor;right:294.1px;color:#495057;">$34,252</div>
<div class="t" style="top:565.3px;font-size:13.78px;line-height:20px;letter-spacing:0.025em;-webkit-text-stroke:0.12px currentColor;right:340.7px;color:#74788d;">From previous period</div>
<div class="t" style="top:565.3px;font-size:12.72px;line-height:20px;letter-spacing:0.025em;-webkit-text-stroke:0.12px currentColor;right:294.2px;color:#34c38f;">&#8593; 12%</div>
<div class="btn" style="left:1548px;top:608.4px;width:77.5px;height:26.5px;line-height:26.5px;font-size:11.4px;border-radius:3.2px">View more</div>
<svg style="left:1177.1px;top:487.8px" width="160" height="160" viewBox="-80 -80 160 160"><path d="M -32.9 32.9 A 46.5 46.5 0 1 1 32.9 32.9" fill="none" stroke="#f1f1f3" stroke-width="15"/><line x1="-27.3" y1="26.4" x2="-39.6" y2="38.2" stroke="#556ee6" stroke-width="2.8"/><line x1="-31.1" y1="21.8" x2="-45.1" y2="31.5" stroke="#556ee6" stroke-width="2.8"/><line x1="-34.2" y1="16.6" x2="-49.5" y2="24.0" stroke="#556ee6" stroke-width="2.8"/><line x1="-36.4" y1="11.0" x2="-52.6" y2="16.0" stroke="#556ee6" stroke-width="2.8"/><line x1="-37.6" y1="5.2" x2="-54.5" y2="7.5" stroke="#556ee6" stroke-width="2.8"/><line x1="-38.0" y1="-0.8" x2="-55.0" y2="-1.2" stroke="#556ee6" stroke-width="2.8"/><line x1="-37.4" y1="-6.8" x2="-54.1" y2="-9.8" stroke="#556ee6" stroke-width="2.8"/><line x1="-35.9" y1="-12.6" x2="-51.9" y2="-18.2" stroke="#556ee6" stroke-width="2.8"/><line x1="-33.4" y1="-18.1" x2="-48.4" y2="-26.1" stroke="#556ee6" stroke-width="2.8"/><line x1="-30.2" y1="-23.1" x2="-43.7" y2="-33.4" stroke="#556ee6" stroke-width="2.8"/><line x1="-26.2" y1="-27.5" x2="-37.9" y2="-39.9" stroke="#556ee6" stroke-width="2.8"/><line x1="-21.5" y1="-31.3" x2="-31.2" y2="-45.3" stroke="#556ee6" stroke-width="2.8"/><line x1="-16.3" y1="-34.3" x2="-23.6" y2="-49.7" stroke="#556ee6" stroke-width="2.8"/><line x1="-10.7" y1="-36.5" x2="-15.5" y2="-52.8" stroke="#556ee6" stroke-width="2.8"/><line x1="-4.9" y1="-37.7" x2="-7.1" y2="-54.5" stroke="#556ee6" stroke-width="2.8"/><line x1="1.1" y1="-38.0" x2="1.6" y2="-55.0" stroke="#556ee6" stroke-width="2.8"/><line x1="7.1" y1="-37.3" x2="10.2" y2="-54.0" stroke="#556ee6" stroke-width="2.8"/><line x1="12.9" y1="-35.8" x2="18.6" y2="-51.8" stroke="#556ee6" stroke-width="2.8"/><line x1="18.3" y1="-33.3" x2="26.5" y2="-48.2" stroke="#556ee6" stroke-width="2.8"/><line x1="23.3" y1="-30.0" x2="33.8" y2="-43.4" stroke="#556ee6" stroke-width="2.8"/><line x1="27.7" y1="-26.0" x2="40.2" y2="-37.6" stroke="#556ee6" stroke-width="2.8"/></svg>
<div class="t" style="top:591.0px;font-size:16.96px;line-height:20px;letter-spacing:0.025em;left:757.6px;width:1000px;text-align:center;color:#adb5bd;">67%</div>
<div class="t" style="top:613.0px;font-size:13.78px;line-height:20px;letter-spacing:0.025em;left:757.6px;width:1000px;text-align:center;color:#adb5bd;">Series A</div>
<div class="card" style="left:24.0px;top:717.6px;width:524.7px;height:391.2px;"></div>
<div class="t" style="top:737.8px;font-size:15.96px;line-height:20px;letter-spacing:0.02em;-webkit-text-stroke:0.6px currentColor;right:1391.0px;color:#495057;letter-spacing:0.55px;">Top Cities Selling Product</div>
<svg style="left:256.3px;top:778.8px" width="60" height="60" viewBox="-30 -30 60 60">
<path d="M-6.5 -3.8C-16 -2 -22.5 2 -22.5 7.5c0 7 10 12.5 22.5 12.5s22.5-5.5 22.5-12.5c0-5.5-6.5-9.5-16-11.3" fill="none" stroke="#556ee6" stroke-width="4.4" stroke-linecap="round"/>
<circle cx="0" cy="-16.5" r="6.2" fill="none" stroke="#556ee6" stroke-width="4.2"/>
<path d="M0 -10.5V6" stroke="#556ee6" stroke-width="4.2" stroke-linecap="round"/></svg>
<div class="t" style="top:864.5px;font-size:23.69px;line-height:20px;letter-spacing:0.02em;-webkit-text-stroke:0.3px currentColor;left:-213.7px;width:1000px;text-align:center;color:#495057;"><span style="display:inline-block;transform:scaleX(0.87);transform-origin:50% 50%">1,456</span></div>
<div class="t" style="top:895.8px;font-size:13.78px;line-height:20px;letter-spacing:0.025em;-webkit-text-stroke:0.12px currentColor;left:-213.7px;width:1000px;text-align:center;color:#74788d;">San Francisco</div>
<div style="position:absolute;left:44px;top:939.1px;width:484.67px;height:1px;background:#eff2f7"></div>
<div style="position:absolute;left:44px;top:983.5px;width:484.67px;height:1px;background:#eff2f7"></div>
<div style="position:absolute;left:44px;top:1028.4px;width:484.67px;height:1px;background:#eff2f7"></div>
<div class="t" style="top:951.5px;font-size:13.78px;line-height:20px;letter-spacing:0.025em;-webkit-text-stroke:0.12px currentColor;right:1403.7px;color:#74788d;">San Francisco</div>
<div class="t" style="top:951.5px;font-size:15.48px;line-height:20px;letter-spacing:0.025em;-webkit-text-stroke:0.12px currentColor;right:1542.8px;color:#495057;">1,456</div>
<div style="position:absolute;left:69.6px;top:959.0px;width:187.2px;height:5px;background:#556ee6;border-radius:3px"></div>
<div class="t" style="top:995.8px;font-size:13.78px;line-height:20px;letter-spacing:0.025em;-webkit-text-stroke:0.12px currentColor;right:1403.7px;color:#74788d;">Los Angeles</div>
<div class="t" style="top:995.8px;font-size:15.48px;line-height:20px;letter-spacing:0.025em;-webkit-text-stroke:0.12px currentColor;right:1542.8px;color:#495057;">1,123</div>
<div style="position:absolute;left:93.6px;top:1003.3px;width:163.2px;height:5px;background:#34c38f;border-radius:3px"></div>
<div class="t" style="top:1040.2px;font-size:13.78px;line-height:20px;letter-spacing:0.025em;-webkit-text-stroke:0.12px currentColor;right:1403.7px;color:#74788d;">San Diego</div>
<div class="t" style="top:1040.2px;font-size:15.48px;line-height:20px;letter-spacing:0.025em;-webkit-text-stroke:0.12px currentColor;right:1542.8px;color:#495057;">1,026</div>
<div style="position:absolute;left:117.6px;top:1047.7px;width:139.2px;height:5px;background:#f1b44c;border-radius:3px"></div>
<div class="card" style="left:572.7px;top:717.6px;width:524.7px;height:391.2px;"></div>
<div class="t" style="top:737.8px;font-size:15.96px;line-height:20px;letter-spacing:0.02em;-webkit-text-stroke:0.6px currentColor;right:842.4px;color:#495057;letter-spacing:0.55px;">Activity</div>
<div style="position:absolute;left:1063.4px;top:812px;width:0;height:210px;border-left:2px dashed #f6f6f6"></div>
<svg style="left:1055.4px;top:803.6px" width="18" height="18" viewBox="0 0 18 18"><circle cx="9" cy="9" r="8" fill="#fff"/><circle cx="9" cy="9" r="7" fill="none" stroke="#495057" stroke-width="1.7"/><circle cx="9" cy="9" r="2" fill="#495057"/></svg>
<div class="t" style="top:802.6px;font-size:14.42px;line-height:20px;letter-spacing:0.02em;-webkit-text-stroke:0.3px currentColor;right:884.7px;color:#495057;">Nov 22</div>
<svg style="left:962.6px;top:806.6px" width="14" height="12" viewBox="0 0 14 12"><path d="M3 6h7.5M7.5 3L10.5 6 7.5 9" fill="none" stroke="#8a97e8" stroke-width="1.6"/></svg>
<div class="t" style="top:802.6px;font-size:13.78px;line-height:20px;letter-spacing:0.025em;-webkit-text-stroke:0.12px currentColor;right:973.4px;color:#74788d;">Responded to need &#8220;Volunteer Activities</div>
<svg style="left:1055.4px;top:868.7px" width="18" height="18" viewBox="0 0 18 18"><circle cx="9" cy="9" r="8" fill="#fff"/><circle cx="9" cy="9" r="7" fill="none" stroke="#495057" stroke-width="1.7"/><circle cx="9" cy="9" r="2" fill="#495057"/></svg>
<div class="t" style="top:867.7px;font-size:14.42px;line-height:20px;letter-spacing:0.02em;-webkit-text-stroke:0.3px currentColor;right:884.7px;color:#495057;">Nov 17</div>
<svg style="left:962.6px;top:871.7px" width="14" height="12" viewBox="0 0 14 12"><path d="M3 6h7.5M7.5 3L10.5 6 7.5 9" fill="none" stroke="#8a97e8" stroke-width="1.6"/></svg>
<div class="t" style="top:867.7px;font-size:13.78px;line-height:20px;letter-spacing:0.025em;-webkit-text-stroke:0.12px currentColor;right:973.4px;color:#74788d;">Everyone realizes why a new common language</div>
<div class="t" style="top:887.7px;font-size:13.78px;line-height:20px;letter-spacing:0.025em;-webkit-text-stroke:0.12px currentColor;right:970.7px;color:#74788d;">would be desirable... <span style="color:#556ee6">Read more</span></div>
<svg style="left:1055.4px;top:947.2px" width="18" height="18" viewBox="0 0 18 18"><circle cx="9" cy="9" r="8" fill="#556ee6"/><path d="M6.5 9h5M9.5 6.8L11.7 9 9.5 11.2" fill="none" stroke="#fff" stroke-width="1.6"/></svg>
<div class="t" style="top:946.2px;font-size:14.42px;line-height:20px;letter-spacing:0.02em;-webkit-text-stroke:0.3px currentColor;right:884.7px;color:#495057;">Nov 15</div>
<svg style="left:962.6px;top:950.2px" width="14" height="12" viewBox="0 0 14 12"><path d="M3 6h7.5M7.5 3L10.5 6 7.5 9" fill="none" stroke="#8a97e8" stroke-width="1.6"/></svg>
<div class="t" style="top:946.2px;font-size:13.78px;line-height:20px;letter-spacing:0.025em;-webkit-text-stroke:0.12px currentColor;right:973.4px;color:#74788d;">&#8220;Joined the group &#8220;Boardsmanship Forum</div>
<svg style="left:1055.4px;top:1012.0px" width="18" height="18" viewBox="0 0 18 18"><circle cx="9" cy="9" r="8" fill="#fff"/><circle cx="9" cy="9" r="7" fill="none" stroke="#495057" stroke-width="1.7"/><circle cx="9" cy="9" r="2" fill="#495057"/></svg>
<div class="t" style="top:1011.0px;font-size:14.42px;line-height:20px;letter-spacing:0.02em;-webkit-text-stroke:0.3px currentColor;right:884.7px;color:#495057;">Nov 12</div>
<svg style="left:962.6px;top:1015.0px" width="14" height="12" viewBox="0 0 14 12"><path d="M3 6h7.5M7.5 3L10.5 6 7.5 9" fill="none" stroke="#8a97e8" stroke-width="1.6"/></svg>
<div class="t" style="top:1011.0px;font-size:13.78px;line-height:20px;letter-spacing:0.025em;-webkit-text-stroke:0.12px currentColor;right:973.4px;color:#74788d;">&#8220;Responded to need &#8220;In-Kind Opportunity</div>
<div class="btn" style="left:797px;top:1062px;width:76px;height:26.5px;line-height:26.5px;font-size:11.4px;border-radius:3.2px">Load More</div>
<div class="card" style="left:1121.3px;top:717.6px;width:524.7px;height:391.2px;"></div>
<div class="t" style="top:737.8px;font-size:15.96px;line-height:20px;letter-spacing:0.02em;-webkit-text-stroke:0.6px currentColor;right:293.7px;color:#495057;letter-spacing:0.55px;">Social Source</div>
<div style="position:absolute;left:1360.2px;top:780.0px;width:48px;height:48px;border-radius:50%;background:#556ee6"></div>
<svg style="left:1378.2px;top:795.0px" width="12" height="18" viewBox="0 0 12 18"><path d="M7.5 17V10h2.3l.4-2.8H7.5V5.6c0-.8.3-1.3 1.4-1.3h1.4V1.8C10 1.7 9.2 1.6 8.3 1.6 6.2 1.6 4.8 2.9 4.8 5.2v2H2.5V10h2.3v7z" fill="#fff"/></svg>
<div class="t" style="top:853.5px;font-size:17.23px;line-height:20px;letter-spacing:0.025em;-webkit-text-stroke:0.12px currentColor;left:884.2px;width:1000px;text-align:center;color:#74788d;"><span style="color:#495057;-webkit-text-stroke:0.6px #495057">Facebook</span> - 125 sales</div>
<div class="t" style="top:879.2px;font-size:13.78px;line-height:20px;letter-spacing:0.025em;-webkit-text-stroke:0.12px currentColor;left:884.2px;width:1000px;text-align:center;color:#74788d;">Maecenas nec odio et ante tincidunt tempus. Donec vitae sapien ut libero</div>
<div class="t" style="top:899.0px;font-size:13.78px;line-height:20px;letter-spacing:0.025em;-webkit-text-stroke:0.12px currentColor;left:884.2px;width:1000px;text-align:center;color:#74788d;">.venenatis faucibus tincidunt</div>
<div class="t" style="top:933.0px;font-size:13.78px;line-height:20px;letter-spacing:0.025em;-webkit-text-stroke:0.12px currentColor;left:884.2px;width:1000px;text-align:center;color:#556ee6;"><span style="font-size:10px">&#8250;</span>&nbsp; Learn more</div>
<div style="position:absolute;left:1197.8px;top:992.0px;width:32px;height:32px;border-radius:50%;background:#e83e8c"></div>
<svg style="left:1205.3px;top:999.5px" width="17" height="17" viewBox="0 0 14 14"><rect x="1.5" y="1.5" width="11" height="11" rx="3" fill="none" stroke="#fff" stroke-width="1.6"/><circle cx="7" cy="7" r="2.5" fill="none" stroke="#fff" stroke-width="1.5"/></svg>
<div class="t" style="top:1039.0px;font-size:16.48px;line-height:20px;letter-spacing:0.02em;-webkit-text-stroke:0.3px currentColor;left:713.8px;width:1000px;text-align:center;color:#495057;letter-spacing:0.6px;">Instagram</div>
<div class="t" style="top:1065.5px;font-size:13.78px;line-height:20px;letter-spacing:0.025em;-webkit-text-stroke:0.12px currentColor;left:713.8px;width:1000px;text-align:center;color:#74788d;"><span style="display:inline-block;transform:scaleX(0.9);transform-origin:50% 50%">sales 104</span></div>
<div style="position:absolute;left:1367.6px;top:992.0px;width:32px;height:32px;border-radius:50%;background:#50a5f1"></div>
<svg style="left:1374.6px;top:999px" width="18" height="18" viewBox="0 0 24 24"><path d="M22 5.9c-.7.3-1.5.5-2.4.6.9-.5 1.5-1.3 1.8-2.3-.8.5-1.7.8-2.6 1-.8-.8-1.9-1.3-3-1.3-2.3 0-4.1 1.8-4.1 4.1 0 .3 0 .6.1.9C8.4 8.8 5.4 7.1 3.3 4.6c-.4.6-.6 1.3-.6 2.1 0 1.4.7 2.7 1.8 3.4-.7 0-1.3-.2-1.9-.5 0 2 1.4 3.7 3.3 4-.6.2-1.2.2-1.9.1.5 1.6 2 2.8 3.9 2.9-1.4 1.1-3.2 1.8-5.1 1.8H2c1.8 1.2 4 1.8 6.3 1.8 7.5 0 11.7-6.3 11.7-11.7v-.5c.8-.6 1.5-1.3 2-2.1z" fill="#fff"/></svg>
<div class="t" style="top:1039.0px;font-size:16.48px;line-height:20px;letter-spacing:0.02em;-webkit-text-stroke:0.3px currentColor;left:883.6px;width:1000px;text-align:center;color:#495057;letter-spacing:0.6px;">Twitter</div>
<div class="t" style="top:1065.5px;font-size:13.78px;line-height:20px;letter-spacing:0.025em;-webkit-text-stroke:0.12px currentColor;left:883.6px;width:1000px;text-align:center;color:#74788d;"><span style="display:inline-block;transform:scaleX(0.9);transform-origin:50% 50%">sales 112</span></div>
<div style="position:absolute;left:1536.8px;top:992.0px;width:32px;height:32px;border-radius:50%;background:#556ee6"></div>
<svg style="left:1546.8px;top:999px" width="12" height="18" viewBox="0 0 12 18"><path d="M7.5 17V10h2.3l.4-2.8H7.5V5.6c0-.8.3-1.3 1.4-1.3h1.4V1.8C10 1.7 9.2 1.6 8.3 1.6 6.2 1.6 4.8 2.9 4.8 5.2v2H2.5V10h2.3v7z" fill="#fff"/></svg>
<div class="t" style="top:1039.0px;font-size:16.48px;line-height:20px;letter-spacing:0.02em;-webkit-text-stroke:0.3px currentColor;left:1052.8px;width:1000px;text-align:center;color:#495057;letter-spacing:0.6px;">Facebook</div>
<div class="t" style="top:1065.5px;font-size:13.78px;line-height:20px;letter-spacing:0.025em;-webkit-text-stroke:0.12px currentColor;left:1052.8px;width:1000px;text-align:center;color:#74788d;"><span style="display:inline-block;transform:scaleX(0.9);transform-origin:50% 50%">sales 125</span></div>
<div class="card" style="left:24.0px;top:1131.4px;width:1622.0px;height:368.6px;"></div>
<div class="t" style="top:1151.0px;font-size:15.96px;line-height:20px;letter-spacing:0.02em;-webkit-text-stroke:0.6px currentColor;right:293.7px;color:#495057;letter-spacing:0.55px;">Latest Transaction</div>
<div style="position:absolute;left:44px;top:1194px;width:1582px;height:48.5px;background:#f8f9fa"></div>
<div class="t" style="top:1207.0px;font-size:13.80px;line-height:20px;letter-spacing:0.02em;-webkit-text-stroke:0.5px currentColor;right:1655.7px;color:#495057;letter-spacing:0.45px;">View Details</div>
<div class="t" style="top:1207.0px;font-size:13.80px;line-height:20px;letter-spacing:0.02em;-webkit-text-stroke:0.5px currentColor;right:1371.3px;color:#495057;letter-spacing:0.45px;">Payment Method</div>
<div class="t" style="top:1207.0px;font-size:13.80px;line-height:20px;letter-spacing:0.02em;-webkit-text-stroke:0.5px currentColor;right:1102.5px;color:#495057;letter-spacing:0.45px;">Payment Status</div>
<div class="t" style="top:1207.0px;font-size:13.80px;line-height:20px;letter-spacing:0.02em;-webkit-text-stroke:0.5px currentColor;right:982.0px;color:#495057;letter-spacing:0.45px;">Total</div>
<div class="t" style="top:1207.0px;font-size:13.80px;line-height:20px;letter-spacing:0.02em;-webkit-text-stroke:0.5px currentColor;right:779.7px;color:#495057;letter-spacing:0.45px;">Date</div>
<div class="t" style="top:1207.0px;font-size:13.80px;line-height:20px;letter-spacing:0.02em;-webkit-text-stroke:0.5px currentColor;right:531.1px;color:#495057;letter-spacing:0.45px;">Billing Name</div>
<div class="t" style="top:1207.0px;font-size:13.80px;line-height:20px;letter-spacing:0.02em;-webkit-text-stroke:0.5px currentColor;right:358.0px;color:#495057;letter-spacing:0.45px;">Order ID</div>
<div style="position:absolute;left:1598.3px;top:1209.0px;width:16px;height:16px;border:1.5px solid #ced4da;border-radius:3px;background:#fff"></div>
<div style="position:absolute;left:44px;top:1293.0px;width:1582px;height:1px;background:#eff2f7"></div>
<div style="position:absolute;left:1598.3px;top:1259.5px;width:16px;height:16px;border:1.5px solid #ced4da;border-radius:3px;background:#fff"></div>
<div class="t" style="top:1257.5px;font-size:13.80px;line-height:20px;letter-spacing:0.02em;-webkit-text-stroke:0.6px currentColor;right:358.0px;color:#495057;letter-spacing:0.3px;">SK2540#</div>
<div class="t" style="top:1257.5px;font-size:13.78px;line-height:20px;letter-spacing:0.025em;-webkit-text-stroke:0.12px currentColor;right:531.1px;color:#74788d;">Neal Matthews</div>
<div class="t" style="top:1257.5px;font-size:13.78px;line-height:20px;letter-spacing:0.025em;-webkit-text-stroke:0.12px currentColor;right:779.7px;color:#74788d;"><span style="display:inline-block;transform:scaleX(0.88);transform-origin:100% 50%">Oct, 2019 07</span></div>
<div class="t" style="top:1257.5px;font-size:13.78px;line-height:20px;letter-spacing:0.025em;-webkit-text-stroke:0.12px currentColor;right:982.0px;color:#74788d;">$400</div>
<div style="position:absolute;left:778.2px;top:1259.0px;width:39px;height:17px;border-radius:9px;background:#d6f3e9;color:#34c38f;font-size:11.5px;line-height:18px;text-align:center;-webkit-text-stroke:.3px #34c38f;letter-spacing:.03em">Paid</div>
<div class="t" style="top:1257.5px;font-size:13.78px;line-height:20px;letter-spacing:0.025em;-webkit-text-stroke:0.12px currentColor;right:1395.7px;color:#74788d;">Mastercard</div>
<svg style="left:533px;top:1260.5px" width="16" height="14" viewBox="0 0 16 14"><rect x="1" y="1.5" width="14" height="11" rx="2.2" fill="#495057"/><circle cx="6.2" cy="7" r="3" fill="#fff"/><circle cx="9.8" cy="7" r="3" fill="#fff"/><path d="M8 4.6a3 3 0 0 1 0 4.8a3 3 0 0 1 0-4.8z" fill="#495057"/></svg>
<div class="btn" style="left:177.6px;top:1254.5px;width:86.4px;height:26px;line-height:27px;font-size:11.8px;border-radius:13px">View Details</div>
<div style="position:absolute;left:44px;top:1344.8px;width:1582px;height:1px;background:#eff2f7"></div>
<div style="position:absolute;left:1598.3px;top:1311.3px;width:16px;height:16px;border:1.5px solid #ced4da;border-radius:3px;background:#fff"></div>
<div class="t" style="top:1309.3px;font-size:13.80px;line-height:20px;letter-spacing:0.02em;-webkit-text-stroke:0.6px currentColor;right:358.0px;color:#495057;letter-spacing:0.3px;">SK2541#</div>
<div class="t" style="top:1309.3px;font-size:13.78px;line-height:20px;letter-spacing:0.025em;-webkit-text-stroke:0.12px currentColor;right:531.1px;color:#74788d;">Jamal Burnett</div>
<div class="t" style="top:1309.3px;font-size:13.78px;line-height:20px;letter-spacing:0.025em;-webkit-text-stroke:0.12px currentColor;right:779.7px;color:#74788d;"><span style="display:inline-block;transform:scaleX(0.88);transform-origin:100% 50%">Oct, 2019 07</span></div>
<div class="t" style="top:1309.3px;font-size:13.78px;line-height:20px;letter-spacing:0.025em;-webkit-text-stroke:0.12px currentColor;right:982.0px;color:#74788d;">$380</div>
<div style="position:absolute;left:729.2px;top:1310.8px;width:88px;height:17px;border-radius:9px;background:#fde1e1;color:#f46a6a;font-size:11.5px;line-height:18px;text-align:center;-webkit-text-stroke:.3px #f46a6a;letter-spacing:.03em">Chargeback</div>
<div class="t" style="top:1309.3px;font-size:13.78px;line-height:20px;letter-spacing:0.025em;-webkit-text-stroke:0.12px currentColor;right:1395.7px;color:#74788d;">Visa</div>
<svg style="left:533px;top:1312.3px" width="16" height="14" viewBox="0 0 16 14"><rect x="1" y="1.5" width="14" height="11" rx="2" fill="#495057"/><rect x="1" y="5" width="14" height="2" fill="#fff"/></svg>
<div class="btn" style="left:177.6px;top:1306.3px;width:86.4px;height:26px;line-height:27px;font-size:11.8px;border-radius:13px">View Details</div>
<div style="position:absolute;left:44px;top:1396.5px;width:1582px;height:1px;background:#eff2f7"></div>
<div style="position:absolute;left:1598.3px;top:1363.0px;width:16px;height:16px;border:1.5px solid #ced4da;border-radius:3px;background:#fff"></div>
<div class="t" style="top:1361.0px;font-size:13.80px;line-height:20px;letter-spacing:0.02em;-webkit-text-stroke:0.6px currentColor;right:358.0px;color:#495057;letter-spacing:0.3px;">SK2542#</div>
<div class="t" style="top:1361.0px;font-size:13.78px;line-height:20px;letter-spacing:0.025em;-webkit-text-stroke:0.12px currentColor;right:531.1px;color:#74788d;">Juan Mitchell</div>
<div class="t" style="top:1361.0px;font-size:13.78px;line-height:20px;letter-spacing:0.025em;-webkit-text-stroke:0.12px currentColor;right:779.7px;color:#74788d;"><span style="display:inline-block;transform:scaleX(0.88);transform-origin:100% 50%">Oct, 2019 06</span></div>
<div class="t" style="top:1361.0px;font-size:13.78px;line-height:20px;letter-spacing:0.025em;-webkit-text-stroke:0.12px currentColor;right:982.0px;color:#74788d;">$384</div>
<div style="position:absolute;left:778.2px;top:1362.5px;width:39px;height:17px;border-radius:9px;background:#d6f3e9;color:#34c38f;font-size:11.5px;line-height:18px;text-align:center;-webkit-text-stroke:.3px #34c38f;letter-spacing:.03em">Paid</div>
<div class="t" style="top:1361.0px;font-size:13.78px;line-height:20px;letter-spacing:0.025em;-webkit-text-stroke:0.12px currentColor;right:1395.7px;color:#74788d;">Paypal</div>
<svg style="left:533px;top:1364.0px" width="16" height="14" viewBox="0 0 16 14"><rect x="1" y="1.5" width="14" height="11" rx="2" fill="#495057"/><rect x="1" y="5" width="14" height="2" fill="#fff"/></svg>
<div class="btn" style="left:177.6px;top:1358.0px;width:86.4px;height:26px;line-height:27px;font-size:11.8px;border-radius:13px">View Details</div>
<div style="position:absolute;left:1598.3px;top:1414.8px;width:16px;height:16px;border:1.5px solid #ced4da;border-radius:3px;background:#fff"></div>
<div class="t" style="top:1412.8px;font-size:13.80px;line-height:20px;letter-spacing:0.02em;-webkit-text-stroke:0.6px currentColor;right:358.0px;color:#495057;letter-spacing:0.3px;">SK2543#</div>
<div class="t" style="top:1412.8px;font-size:13.78px;line-height:20px;letter-spacing:0.025em;-webkit-text-stroke:0.12px currentColor;right:531.1px;color:#74788d;">Barry Dick</div>
<div class="t" style="top:1412.8px;font-size:13.78px;line-height:20px;letter-spacing:0.025em;-webkit-text-stroke:0.12px currentColor;right:779.7px;color:#74788d;"><span style="display:inline-block;transform:scaleX(0.88);transform-origin:100% 50%">Oct, 2019 05</span></div>
<div class="t" style="top:1412.8px;font-size:13.78px;line-height:20px;letter-spacing:0.025em;-webkit-text-stroke:0.12px currentColor;right:982.0px;color:#74788d;">$412</div>
<div style="position:absolute;left:778.2px;top:1414.3px;width:39px;height:17px;border-radius:9px;background:#d6f3e9;color:#34c38f;font-size:11.5px;line-height:18px;text-align:center;-webkit-text-stroke:.3px #34c38f;letter-spacing:.03em">Paid</div>
<div class="t" style="top:1412.8px;font-size:13.78px;line-height:20px;letter-spacing:0.025em;-webkit-text-stroke:0.12px currentColor;right:1395.7px;color:#74788d;">Mastercard</div>
<svg style="left:533px;top:1415.8px" width="16" height="14" viewBox="0 0 16 14"><rect x="1" y="1.5" width="14" height="11" rx="2.2" fill="#495057"/><circle cx="6.2" cy="7" r="3" fill="#fff"/><circle cx="9.8" cy="7" r="3" fill="#fff"/><path d="M8 4.6a3 3 0 0 1 0 4.8a3 3 0 0 1 0-4.8z" fill="#495057"/></svg>
<div class="btn" style="left:177.6px;top:1409.8px;width:86.4px;height:26px;line-height:27px;font-size:11.8px;border-radius:13px">View Details</div>
</div></body></html>
